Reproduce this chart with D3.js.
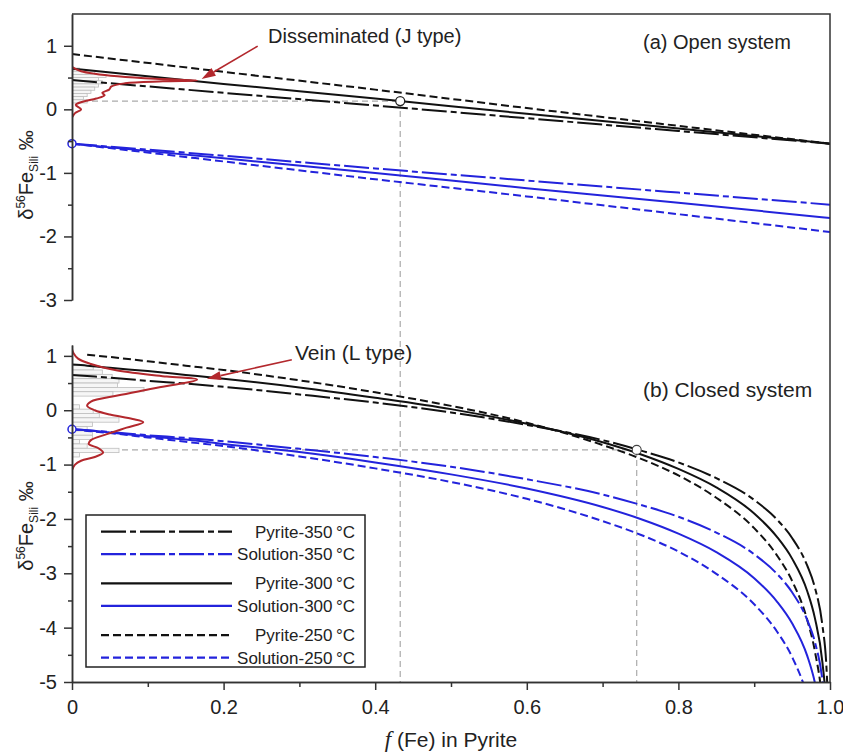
<!DOCTYPE html>
<html>
<head>
<meta charset="utf-8">
<script src="https://cdn.jsdelivr.net/npm/d3@7"></script>
<style>
  body { margin: 0; background: #fff; }
  text { font-family: "Liberation Sans", Arial, sans-serif; fill: #222; }
</style>
</head>
<body>
<svg id="chart" width="843" height="752"></svg>
<script>
// ---- (a) open system: fraction of Fe in pyrite vs δ56Fe ----
const fracOpen = [0, 0.2, 0.4, 0.6, 0.8, 1.0];
const openPyrite350   = [0.46, 0.26, 0.06, -0.14, -0.34, -0.54];
const openPyrite300   = [0.64, 0.40, 0.17, -0.07, -0.30, -0.54];
const openPyrite250   = [0.87, 0.59, 0.31, 0.02, -0.26, -0.54];
const openSolution350 = [-0.54, -0.73, -0.93, -1.12, -1.31, -1.50];
const openSolution300 = [-0.54, -0.77, -1.00, -1.24, -1.47, -1.71];
const openSolution250 = [-0.54, -0.82, -1.10, -1.37, -1.65, -1.93];

// ---- (b) closed system ----
const fracClosed = [0, 0.02, 0.05, 0.1, 0.15, 0.2, 0.3, 0.4, 0.5, 0.6, 0.7, 0.75, 0.8, 0.85, 0.9, 0.93, 0.95, 0.97, 0.98, 0.99, 0.995, 0.998];
const closedPyrite350   = [0.65, 0.63, 0.60, 0.54, 0.49, 0.43, 0.29, 0.14, -0.04, -0.27, -0.55, -0.74, -0.96, -1.25, -1.65, -2.01, -2.35, -2.86, -3.26, -3.96, -4.65, -5.56];
const closedSolution350 = [-0.35, -0.37, -0.40, -0.46, -0.51, -0.57, -0.71, -0.86, -1.04, -1.27, -1.55, -1.74, -1.96, -2.25, -2.65, -3.01, -3.35, -3.86, -4.26, -4.96, -5.65, -6.56];
const closedPyrite300   = [0.84, 0.82, 0.78, 0.72, 0.65, 0.58, 0.42, 0.23, 0.02, -0.25, -0.59, -0.81, -1.08, -1.42, -1.90, -2.33, -2.73, -3.33, -3.82, -4.64, -5.47, -6.56];
const closedSolution300 = [-0.35, -0.37, -0.41, -0.48, -0.54, -0.62, -0.77, -0.96, -1.18, -1.44, -1.78, -2.00, -2.27, -2.61, -3.09, -3.52, -3.92, -4.52, -5.01, -5.83, -6.66, -7.75];
const closedPyrite250   = [null, 1.02, 0.98, 0.90, 0.82, 0.74, 0.55, 0.33, 0.08, -0.23, -0.64, -0.89, -1.20, -1.61, -2.17, -2.67, -3.14, -3.86, -4.43, -5.40, -6.37, -7.65];
const closedSolution250 = [-0.35, -0.38, -0.42, -0.50, -0.58, -0.66, -0.85, -1.07, -1.32, -1.63, -2.04, -2.29, -2.60, -3.01, -3.57, -4.07, -4.54, -5.26, -5.83, -6.80, -7.77, -9.05];

// measured pyrite δ56Fe distributions (histogram bin centres / relative length, density profile)
const histOpenBins    = [0.625, 0.575, 0.525, 0.475, 0.425, 0.375, 0.325, 0.275, 0.225, 0.175, 0.125];
const histOpenLength  = [0.010, 0.030, 0.045, 0.035, 0.040, 0.035, 0.030, 0.025, 0.020, 0.015, 0.020];
const histClosedBins   = [0.78, 0.70, 0.62, 0.54, 0.46, 0.38, 0.30, 0.06, -0.02, -0.10, -0.18, -0.26, -0.34, -0.42, -0.50, -0.58, -0.66, -0.74, -0.82];
const histClosedLength = [0.028, 0.040, 0.053, 0.062, 0.060, 0.095, 0.054, 0.010, 0.028, 0.036, 0.062, 0.027, 0.020, 0.027, 0.027, 0.010, 0.020, 0.062, 0.010];

const densityOpenF = [0.000, 0.004, 0.012, 0.005, 0.014, 0.032, 0.043, 0.040, 0.049, 0.052, 0.070, 0.120, 0.165, 0.110, 0.060, 0.030, 0.012, 0.004, 0.000];
const densityOpenV = [-0.13, -0.06, 0.00, 0.07, 0.12, 0.17, 0.22, 0.26, 0.31, 0.36, 0.41, 0.44, 0.455, 0.48, 0.52, 0.56, 0.60, 0.64, 0.67];
const densityClosedF = [0.000, 0.004, 0.012, 0.030, 0.041, 0.035, 0.022, 0.025, 0.046, 0.072, 0.094, 0.080, 0.050, 0.030, 0.020, 0.025, 0.060, 0.107, 0.165, 0.125, 0.060, 0.025, 0.008, 0.002, 0.000];
const densityClosedV = [-1.10, -1.00, -0.93, -0.86, -0.78, -0.70, -0.62, -0.55, -0.44, -0.32, -0.22, -0.16, -0.08, 0.00, 0.08, 0.16, 0.27, 0.40, 0.565, 0.62, 0.73, 0.85, 0.95, 1.05, 1.12];

// highlighted points (f, δ56Fe)
const pointOpen = [0.433, 0.13];
const pointClosed = [0.745, -0.73];

const xTickMajor = [0, 0.2, 0.4, 0.6, 0.8, 1.0];
const xTickMinor = [0.1, 0.3, 0.5, 0.7, 0.9];
const yTicksA = [1, 0, -1, -2, -3];
const yTicksAMinor = [0.5, -0.5, -1.5, -2.5];
const yTicksB = [1, 0, -1, -2, -3, -4, -5];
const yTicksBMinor = [0.5, -0.5, -1.5, -2.5, -3.5, -4.5];

const legendLabels = ["Pyrite-350\u2009\u00B0C", "Solution-350\u2009\u00B0C", "Pyrite-300\u2009\u00B0C", "Solution-300\u2009\u00B0C", "Pyrite-250\u2009\u00B0C", "Solution-250\u2009\u00B0C"];

// ---------- styling ----------
const BLACK = "#111", BLUE = "#2323dc", RED = "#b3282d", AXIS = "#333";
const dashFor = { "350": "25,4,6,4", "300": null, "250": "8,4" };

const svg = d3.select("#chart");

const x = d3.scaleLinear().domain([0, 1]).range([72, 830]);
const yA = d3.scaleLinear().domain([-3, 1.5]).range([300, 14]);
const yB = d3.scaleLinear().domain([-5, 1.2]).range([682, 345]);

const defs = svg.append("defs");
defs.append("clipPath").attr("id", "clipA").append("rect")
  .attr("x", x(0)).attr("y", yA(1.5)).attr("width", x(1) - x(0)).attr("height", yA(-3) - yA(1.5));
defs.append("clipPath").attr("id", "clipB").append("rect")
  .attr("x", x(0)).attr("y", yB(1.2)).attr("width", x(1) - x(0)).attr("height", yB(-5) - yB(1.2));

function series(fr, vals) {
  return fr.map((f, i) => ({ f, v: vals[i] }));
}

function drawPanel(y, clipId, fr, sets, hBins, hLen, binW, dF, dV) {
  const g = svg.append("g").attr("clip-path", `url(#${clipId})`);
  // histogram bars
  g.selectAll("rect.hist").data(hBins.map((b, i) => ({ b, l: hLen[i] })))
    .join("rect").attr("class", "hist")
    .attr("x", x(0))
    .attr("y", d => y(d.b + binW / 2))
    .attr("width", d => x(d.l) - x(0))
    .attr("height", d => y(d.b - binW / 2) - y(d.b + binW / 2))
    .attr("fill", "#f6f6f6").attr("stroke", "#bdbdbd").attr("stroke-width", 0.8);

  const line = d3.line().defined(d => d.v !== null)
    .x(d => x(d.f)).y(d => y(d.v)).curve(d3.curveMonotoneX);
  sets.forEach(s => {
    g.append("path").datum(series(fr, s.vals))
      .attr("d", line).attr("fill", "none")
      .attr("stroke", s.color).attr("stroke-width", 2)
      .attr("stroke-dasharray", dashFor[s.t]);
  });

  const dens = d3.line().x(d => x(d.f)).y(d => y(d.v)).curve(d3.curveCatmullRom.alpha(0.5));
  g.append("path").datum(series(dF, dV)).attr("d", dens)
    .attr("fill", "none").attr("stroke", RED).attr("stroke-width", 2);
  return g;
}

// gray reference lines through the highlighted points
function refLines(pt, yScale) {
  svg.append("line").attr("x1", x(0)).attr("x2", x(pt[0]))
    .attr("y1", yScale(pt[1])).attr("y2", yScale(pt[1]))
    .attr("stroke", "#aaa").attr("stroke-width", 1.2).attr("stroke-dasharray", "6,4");
  svg.append("line").attr("x1", x(pt[0])).attr("x2", x(pt[0]))
    .attr("y1", yScale(pt[1])).attr("y2", yB(-5))
    .attr("stroke", "#aaa").attr("stroke-width", 1.2).attr("stroke-dasharray", "6,4");
}
refLines(pointOpen, yA);
refLines(pointClosed, yB);

drawPanel(yA, "clipA", fracOpen, [
  { vals: openPyrite250, color: BLACK, t: "250" },
  { vals: openPyrite300, color: BLACK, t: "300" },
  { vals: openPyrite350, color: BLACK, t: "350" },
  { vals: openSolution250, color: BLUE, t: "250" },
  { vals: openSolution300, color: BLUE, t: "300" },
  { vals: openSolution350, color: BLUE, t: "350" }
], histOpenBins, histOpenLength, 0.05, densityOpenF, densityOpenV);

drawPanel(yB, "clipB", fracClosed, [
  { vals: closedPyrite250, color: BLACK, t: "250" },
  { vals: closedPyrite300, color: BLACK, t: "300" },
  { vals: closedPyrite350, color: BLACK, t: "350" },
  { vals: closedSolution250, color: BLUE, t: "250" },
  { vals: closedSolution300, color: BLUE, t: "300" },
  { vals: closedSolution350, color: BLUE, t: "350" }
], histClosedBins, histClosedLength, 0.08, densityClosedF, densityClosedV);

// markers
svg.append("circle").attr("cx", x(pointOpen[0])).attr("cy", yA(pointOpen[1])).attr("r", 4.5)
  .attr("fill", "#fff").attr("stroke", "#222").attr("stroke-width", 1.3);
svg.append("circle").attr("cx", x(pointClosed[0])).attr("cy", yB(pointClosed[1])).attr("r", 4.5)
  .attr("fill", "#fff").attr("stroke", "#444").attr("stroke-width", 1.1);
svg.append("circle").attr("cx", x(0)).attr("cy", yA(openSolution300[0])).attr("r", 4)
  .attr("fill", "#fff").attr("stroke", BLUE).attr("stroke-width", 1.5);
svg.append("circle").attr("cx", x(0)).attr("cy", yB(closedSolution300[0])).attr("r", 4)
  .attr("fill", "#fff").attr("stroke", BLUE).attr("stroke-width", 1.5);

// ---------- axes ----------
function styleAxis(g) {
  g.selectAll("path, line").attr("stroke", AXIS).attr("stroke-width", 1.5);
  g.selectAll("text").attr("font-size", 20).attr("fill", "#222")
    .attr("font-family", '"Liberation Sans", Arial, sans-serif');
}
const fmtY = d => (d < 0 ? "-" : "") + Math.abs(d);

svg.append("g").attr("transform", `translate(${x(0)},0)`)
  .call(d3.axisLeft(yA).tickValues(yTicksAMinor).tickSize(4).tickSizeOuter(0).tickFormat(""))
  .call(styleAxis);
svg.append("g").attr("transform", `translate(${x(0)},0)`)
  .call(d3.axisLeft(yA).tickValues(yTicksA).tickSize(8).tickPadding(7).tickSizeOuter(0).tickFormat(fmtY))
  .call(styleAxis);
svg.append("g").attr("transform", `translate(${x(0)},0)`)
  .call(d3.axisLeft(yB).tickValues(yTicksBMinor).tickSize(4).tickSizeOuter(0).tickFormat(""))
  .call(styleAxis);
svg.append("g").attr("transform", `translate(${x(0)},0)`)
  .call(d3.axisLeft(yB).tickValues(yTicksB).tickSize(8).tickPadding(7).tickSizeOuter(0).tickFormat(fmtY))
  .call(styleAxis);

svg.append("g").attr("transform", `translate(0,${yB(-5)})`)
  .call(d3.axisBottom(x).tickValues(xTickMinor).tickSize(5).tickSizeOuter(0).tickFormat(""))
  .call(styleAxis);
svg.append("g").attr("transform", `translate(0,${yB(-5)})`)
  .call(d3.axisBottom(x).tickValues(xTickMajor).tickSize(8).tickPadding(10).tickSizeOuter(0)
    .tickFormat(d => d === 0 ? "0" : d3.format(".1f")(d)))
  .call(styleAxis);

// frame: top and right edges
svg.append("path")
  .attr("d", `M${x(0)},${yA(1.5)}H${x(1)}V${yB(-5)}`)
  .attr("fill", "none").attr("stroke", AXIS).attr("stroke-width", 1.5);

// ---------- axis titles ----------
function yTitle(cy) {
  const t = svg.append("text")
    .attr("transform", `translate(33,${cy}) rotate(-90)`)
    .attr("text-anchor", "middle").attr("font-size", 20);
  t.append("tspan").text("\u03B4");
  t.append("tspan").attr("font-size", 12).attr("dy", -8).text("56");
  t.append("tspan").attr("dy", 8).text("Fe");
  t.append("tspan").attr("font-size", 12).attr("dy", 5).text("Sili");
  t.append("tspan").attr("dy", -5).text(" \u2030");
}
yTitle(175);
yTitle(526);

const xt = svg.append("text").attr("x", x(0.5)).attr("y", 747)
  .attr("text-anchor", "middle").attr("font-size", 21);
xt.append("tspan").attr("font-family", '"Liberation Serif", "Times New Roman", serif')
  .attr("font-style", "italic").attr("font-size", 23).text("f");
xt.append("tspan").text(" (Fe) in Pyrite");

// ---------- panel labels ----------
svg.append("text").attr("x", 643).attr("y", 49).attr("font-size", 20).text("(a) Open system");
svg.append("text").attr("x", 643).attr("y", 397).attr("font-size", 21).text("(b) Closed system");

// ---------- annotations ----------
function arrow(from, to, yScale) {
  const x1 = x(from[0]), y1 = yScale(from[1]), x2 = x(to[0]), y2 = yScale(to[1]);
  const a = Math.atan2(y2 - y1, x2 - x1), L = 14, W = 4.5;
  const bx = x2 - L * Math.cos(a), by = y2 - L * Math.sin(a);
  svg.append("line").attr("x1", x1).attr("y1", y1).attr("x2", bx).attr("y2", by)
    .attr("stroke", RED).attr("stroke-width", 1.6);
  svg.append("path")
    .attr("d", `M${x2},${y2}L${bx - W * Math.sin(a)},${by + W * Math.cos(a)}L${bx + W * Math.sin(a)},${by - W * Math.cos(a)}Z`)
    .attr("fill", RED);
}
arrow([0.245, 0.995], [0.171, 0.476], yA);
arrow([0.29, 0.93], [0.178, 0.58], yB);

svg.append("text").attr("x", 268).attr("y", 43).attr("font-size", 20).text("Disseminated (J type)");
svg.append("text").attr("x", 295).attr("y", 360).attr("font-size", 21).text("Vein (L type)");

// ---------- legend ----------
const lg = svg.append("g");
lg.append("rect").attr("x", 86).attr("y", 515).attr("width", 279).attr("height", 152)
  .attr("fill", "#fff").attr("stroke", "#222").attr("stroke-width", 1.5);
const legendTemps = ["350", "350", "300", "300", "250", "250"];
legendLabels.forEach((lab, i) => {
  const cy = 531.7 + Math.floor(i / 2) * 51.7 + (i % 2) * 22.5;
  const col = i % 2 === 0 ? BLACK : BLUE;
  lg.append("line").attr("x1", 101).attr("x2", 232).attr("y1", cy).attr("y2", cy)
    .attr("stroke", col).attr("stroke-width", 2.2)
    .attr("stroke-dasharray", dashFor[legendTemps[i]]);
  lg.append("text").attr("x", 355).attr("y", cy + 6).attr("text-anchor", "end")
    .attr("font-size", 17).text(lab);
});
</script>
</body>
</html>
